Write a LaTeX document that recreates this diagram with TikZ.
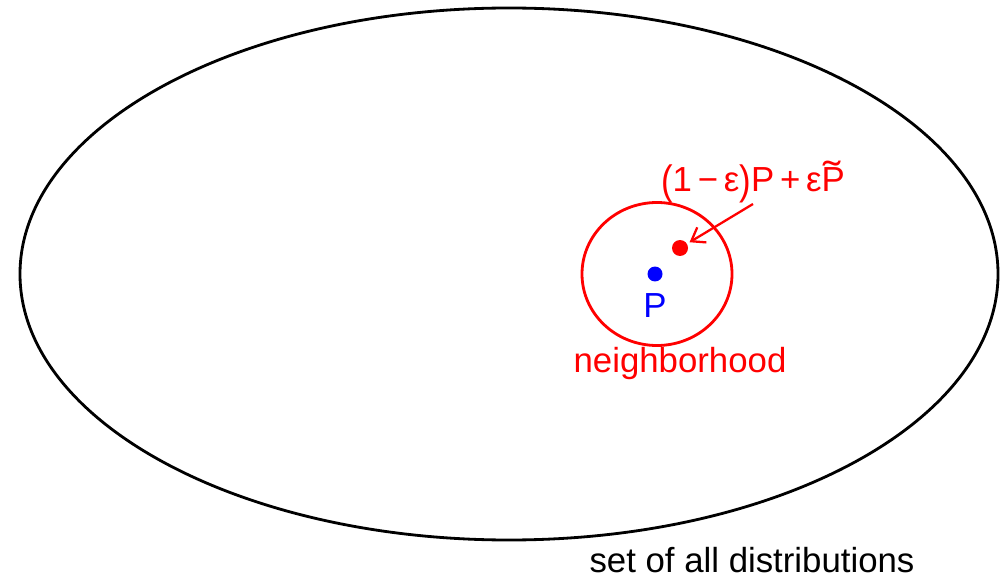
\documentclass[tikz,border=0pt]{standalone}
\usepackage{fontspec}
\setmainfont{Liberation Sans}
\usetikzlibrary{positioning,arrows.meta}
\definecolor{nbred}{RGB}{255,0,0}
\definecolor{ptblue}{RGB}{0,0,255}
\tikzset{
  lbl/.style={font=\fontsize{19.8}{24}\selectfont, inner sep=0pt},
  dot/.style={circle, fill=#1, inner sep=0pt, minimum size=0.3cm}
}
\newcommand\tildeP{\makebox[0pt][l]{\hspace{0.05em}\raisebox{0.1em}{\scalebox{1.5}[1.1]{\char"02DC}}}P}
\newcommand\bigpar[1]{\raisebox{-0.06em}{\scalebox{1}[1.18]{#1}}}
\begin{document}
\begin{tikzpicture}[x=0.02cm,y=-0.02cm,line width=1.6pt]
  \useasboundingbox (0,0) rectangle (1003,577);
  % set of all distributions
  \draw (509,274) ellipse [x radius=489, y radius=266];
  \node [lbl, anchor=base] (all) at (752,572) {set of all distributions};
  % neighborhood of P
  \draw [nbred] (657,274) ellipse [x radius=75, y radius=71.5];
  \node [dot=ptblue] (p) at (655,274) {};
  \node [lbl, text=ptblue, below=5pt of p] (plbl) {P};
  \node [dot=nbred, minimum size=0.32cm] (mix) at (680,248) {};
  \node [lbl, text=nbred, anchor=base] (nbh) at (680,372) {neighborhood};
  \node [lbl, text=nbred, anchor=base] (mixlbl) at (753,192)
    {\bigpar{(}1\,−\,ε\bigpar{)}P\,+\,ε\tildeP};
  \draw [nbred, line width=1.3pt, -{Straight Barb[length=7pt,width=10pt]}, shorten >=1pt]
    (mixlbl.south) -- (mix);
\end{tikzpicture}
\end{document}
